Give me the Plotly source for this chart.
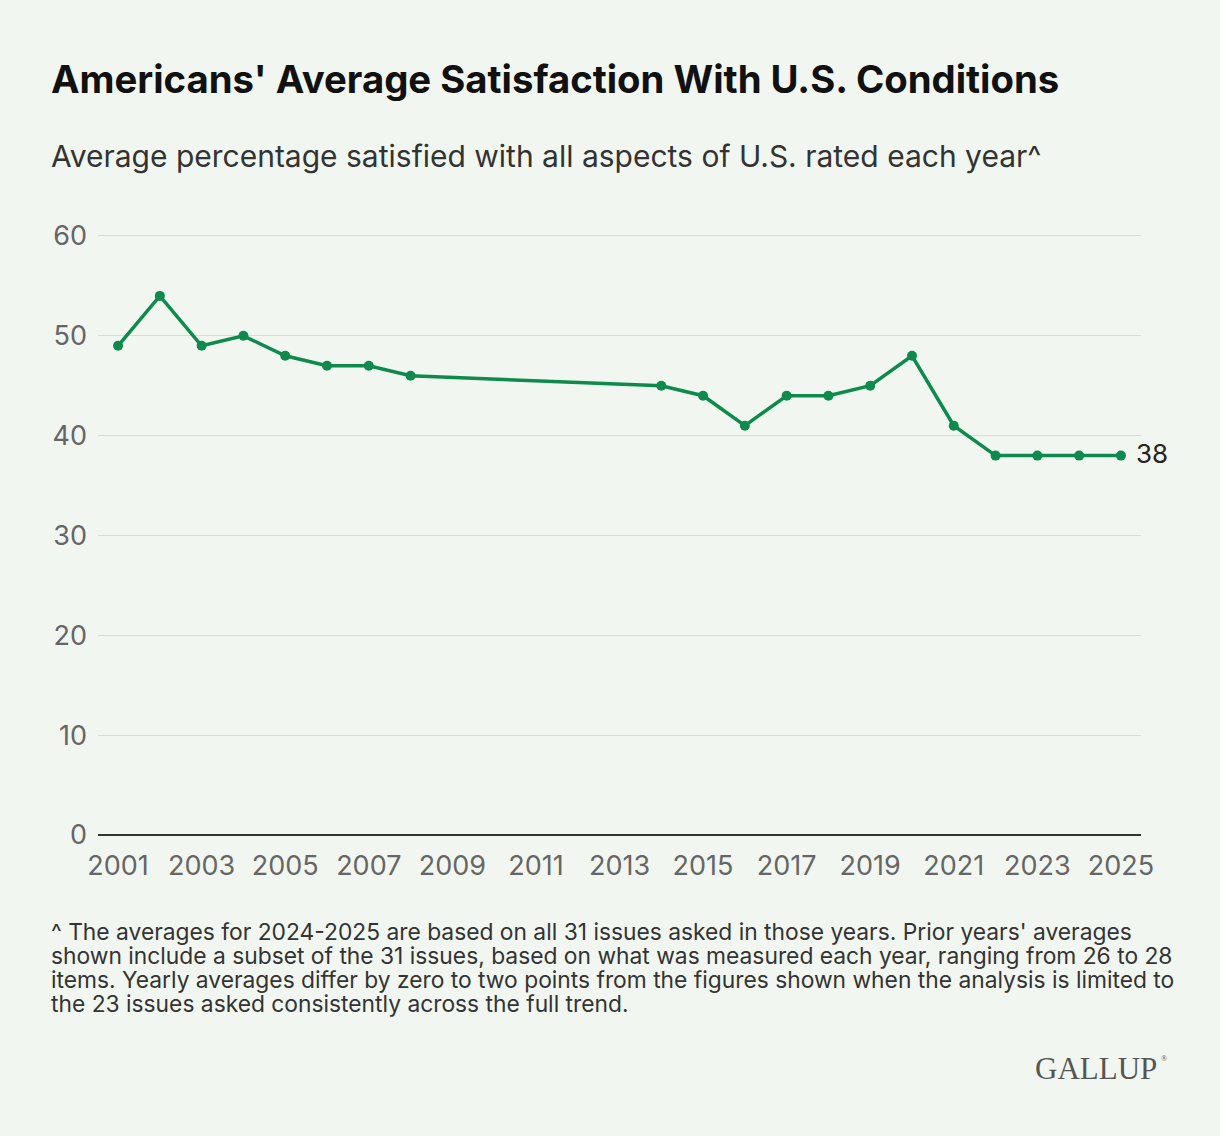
import plotly.graph_objects as go

years = [2001, 2002, 2003, 2004, 2005, 2006, 2007, 2008, 2014, 2015, 2016,
         2017, 2018, 2019, 2020, 2021, 2022, 2023, 2024, 2025]
satisfied = [49, 54, 49, 50, 48, 47, 47, 46, 45, 44, 41,
             44, 44, 45, 48, 41, 38, 38, 38, 38]
x_ticks = list(range(2001, 2026, 2))
y_ticks = [0, 10, 20, 30, 40, 50, 60]

title = "Americans' Average Satisfaction With U.S. Conditions"
subtitle = "Average percentage satisfied with all aspects of U.S. rated each year^"
footnote_lines = [
    "^ The averages for 2024-2025 are based on all 31 issues asked in those years. Prior years' averages",
    "shown include a subset of the 31 issues, based on what was measured each year, ranging from 26 to 28",
    "items. Yearly averages differ by zero to two points from the figures shown when the analysis is limited to",
    "the 23 issues asked consistently across the full trend.",
]

W, H = 1220, 1136
L, R, T, B = 98, 1141, 226, 835
GREEN = "#0E8A4C"
BG = "#F1F7F0"
FONT = "Inter, Noto Sans, sans-serif"


def px(x):
    return (x - L) / (R - L)


def py(y):
    return (B - y) / (B - T)


fig = go.Figure()
fig.add_trace(go.Scatter(
    x=years, y=satisfied, mode="lines+markers",
    line=dict(color=GREEN, width=3.5),
    marker=dict(color=GREEN, size=10),
    hoverinfo="x+y", showlegend=False,
))

fig.add_annotation(x=years[-1], y=satisfied[-1], xref="x", yref="y",
                   text=str(satisfied[-1]), showarrow=False, xanchor="left",
                   xshift=13, yshift=2, font=dict(family=FONT, size=26, color="#222"))

fig.add_annotation(x=px(49), y=py(79), xref="paper", yref="paper",
                   text="<b>" + title + "</b>",
                   showarrow=False, xanchor="left", yanchor="middle",
                   font=dict(family=FONT, size=38.3, color="#111"))
fig.add_annotation(x=px(49), y=py(156), xref="paper", yref="paper",
                   text=subtitle,
                   showarrow=False, xanchor="left", yanchor="middle",
                   font=dict(family=FONT, size=30, color="#333"))
for i, line in enumerate(footnote_lines):
    fig.add_annotation(x=px(49), y=py(931 + i * 24.3), xref="paper", yref="paper",
                       text=line, showarrow=False, xanchor="left", yanchor="middle",
                       font=dict(family=FONT, size=22.8, color="#333"))
fig.add_annotation(x=px(1159), y=py(1068), xref="paper", yref="paper",
                   text="GALLUP", showarrow=False,
                   xanchor="right", yanchor="middle",
                   font=dict(family="Liberation Serif, DejaVu Serif, serif", size=31, color="#555"))
fig.add_annotation(x=px(1159), y=py(1058), xref="paper", yref="paper",
                   text="®", showarrow=False,
                   xanchor="left", yanchor="middle",
                   font=dict(family="Liberation Serif, DejaVu Serif, serif", size=8, color="#555"))

fig.update_layout(
    width=W, height=H,
    margin=dict(l=L, r=W - R, t=T, b=H - B),
    paper_bgcolor=BG, plot_bgcolor=BG,
    font=dict(family=FONT),
    xaxis=dict(range=[2000.52, 2025.48], tickvals=x_ticks,
               tickfont=dict(size=27, color="#666"), showgrid=False,
               zeroline=False, showline=False, ticks="",
               ticklabelstandoff=12, fixedrange=True),
    yaxis=dict(range=[0, 61], tickvals=y_ticks,
               tickfont=dict(size=27, color="#666"), showgrid=True,
               gridcolor="#D9DDD7", gridwidth=1, zeroline=True,
               zerolinecolor="#333", zerolinewidth=2, ticks="",
               ticklabelstandoff=10, fixedrange=True),
)

fig.write_html("out.html")
